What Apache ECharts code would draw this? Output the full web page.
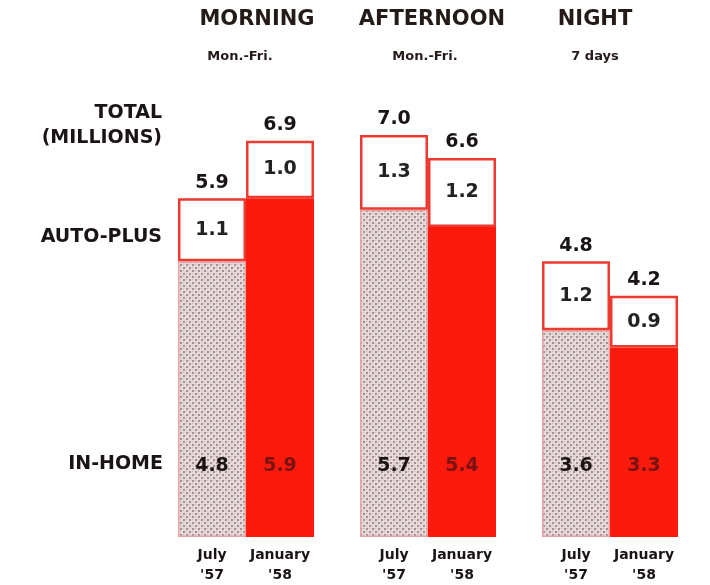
<!DOCTYPE html>
<html><head><meta charset="utf-8">
<script src="https://cdn.jsdelivr.net/npm/echarts@6/dist/echarts.min.js"></script>
<style>html,body{margin:0;padding:0;background:#fff}#c{width:710px;height:585px}</style>
</head><body><div id="c"></div><script>
// ---- data ----
const periods = ['MORNING', 'AFTERNOON', 'NIGHT'];
const periodNotes = ['Mon.-Fri.', 'Mon.-Fri.', '7 days'];
const surveyJuly = "July\n'57";
const surveyJan = "January\n'58";
const inHomeJuly = [4.8, 5.7, 3.6];
const autoPlusJuly = [1.1, 1.3, 1.2];
const totalJuly = [5.9, 7.0, 4.8];
const inHomeJan = [5.9, 5.4, 3.3];
const autoPlusJan = [1.0, 1.2, 0.9];
const totalJan = [6.9, 6.6, 4.2];
const rowLabels = ['TOTAL\n(MILLIONS)', 'AUTO-PLUS', 'IN-HOME'];
const yMin = 0, yMax = 7;

// ---- styles ----
const RED = '#fb1a0c';
const FONT = 'DejaVu Sans';

function stipple() {
  const c = document.createElement('canvas');
  c.width = 6; c.height = 6;
  const g = c.getContext('2d');
  g.fillStyle = '#e4dada'; g.fillRect(0, 0, 6, 6);
  g.fillStyle = '#a88f96';
  g.fillRect(0, 0, 2, 2); g.fillRect(3, 3, 2, 2);
  g.fillStyle = '#c7b5b9';
  g.fillRect(3, 0, 1, 1); g.fillRect(0, 3, 1, 1);
  return c;
}
const pattern = { image: stipple(), repeat: 'repeat' };
const zeros = periods.map(() => 0);

function stackSeries(stack, survey, inHome, autoPlus, totals, inFill, inBorder, inLabelColor) {
  return [
    { name: stack + '-base', type: 'bar', stack, data: zeros, barWidth: 68, barGap: '0%',
      itemStyle: { color: 'rgba(0,0,0,0)' }, silent: true,
      label: { show: true, position: 'bottom', distance: 8, formatter: () => survey,
        fontFamily: FONT, fontWeight: 'bold', fontSize: 14, lineHeight: 20, color: '#1a1414' } },
    { name: stack + ' In-home', type: 'bar', stack, data: inHome, barWidth: 68, barGap: '0%',
      itemStyle: { color: inFill, borderColor: inBorder, borderWidth: inBorder ? 1.5 : 0 },
      label: { show: true, position: 'insideBottom', distance: 61, formatter: p => p.value.toFixed(1),
        fontFamily: FONT, fontWeight: 'bold', fontSize: 19, color: inLabelColor } },
    { name: stack + ' Auto-plus', type: 'bar', stack, data: autoPlus, barWidth: 68, barGap: '0%',
      itemStyle: { color: '#ffffff', borderColor: '#ec3a30', borderWidth: 2.5 },
      label: { show: true, position: 'inside', formatter: p => p.value.toFixed(1),
        fontFamily: FONT, fontWeight: 'bold', fontSize: 19, color: '#222' } },
    { name: stack + '-total', type: 'bar', stack, data: zeros, barWidth: 68, barGap: '0%',
      itemStyle: { color: 'rgba(0,0,0,0)' }, silent: true,
      label: { show: true, position: 'top', distance: 6, formatter: p => totals[p.dataIndex].toFixed(1),
        fontFamily: FONT, fontWeight: 'bold', fontSize: 19, color: '#1a1414' } }
  ];
}

const headStyle = { fontFamily: FONT, fontWeight: 'bold', fontSize: 21, lineHeight: 30, color: '#241a18' };
const noteStyle = { fontFamily: FONT, fontWeight: 'bold', fontSize: 13, lineHeight: 44, color: '#241a18' };
const rich = {
  a0: Object.assign({ padding: [0, 0, 0, 22] }, headStyle),
  a1: Object.assign({ padding: [0, 0, 0, 8] }, headStyle),
  a2: Object.assign({ padding: [0, 30, 0, 0] }, headStyle),
  b0: Object.assign({ padding: [0, 12, 0, 0] }, noteStyle),
  b1: Object.assign({ padding: [0, 6, 0, 0] }, noteStyle),
  b2: Object.assign({ padding: [0, 30, 0, 0] }, noteStyle)
};

const chart = echarts.init(document.getElementById('c'), null, { renderer: 'canvas' });
chart.setOption({
  backgroundColor: '#ffffff',
  animation: false,
  grid: { left: 155, right: 9, top: 135, bottom: 48 },
  xAxis: [
    { type: 'category', data: periods, show: false },
    { type: 'category', data: periods, position: 'top',
      axisLine: { show: false }, axisTick: { show: false },
      axisLabel: { margin: 56, interval: 0,
        formatter: (v, i) => '{a' + i + '|' + v + '}\n{b' + i + '|' + periodNotes[i] + '}',
        rich } }
  ],
  yAxis: { type: 'value', min: yMin, max: yMax, show: false, splitLine: { show: false } },
  series: [
    ...stackSeries('july', surveyJuly, inHomeJuly, autoPlusJuly, totalJuly, pattern, '#e9a3a3', '#1a1414'),
    ...stackSeries('jan', surveyJan, inHomeJan, autoPlusJan, totalJan, RED, null, '#7a1212')
  ],
  graphic: [
    { type: 'text', right: 548, top: 101, style: { text: rowLabels[0], textAlign: 'right',
      font: 'bold 19px "' + FONT + '"', lineHeight: 25, fill: '#1a1414' } },
    { type: 'text', right: 548, top: 228, style: { text: rowLabels[1],
      font: 'bold 19px "' + FONT + '"', fill: '#1a1414' } },
    { type: 'text', right: 547, top: 455, style: { text: rowLabels[2],
      font: 'bold 19px "' + FONT + '"', fill: '#1a1414' } }
  ]
});
</script></body></html>
